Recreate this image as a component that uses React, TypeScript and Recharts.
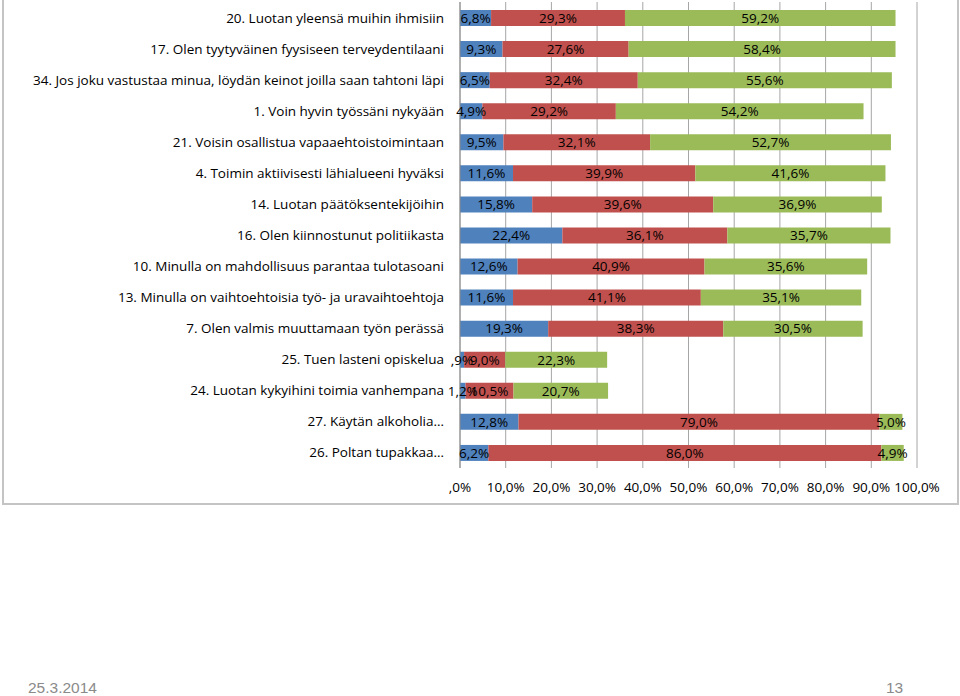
import { Bar, BarChart, CartesianGrid, LabelList, XAxis, YAxis } from "recharts";

const categories = [
  "20. Luotan yleensä muihin ihmisiin",
  "17. Olen tyytyväinen fyysiseen terveydentilaani",
  "34. Jos joku vastustaa minua, löydän keinot joilla saan tahtoni läpi",
  "1. Voin hyvin työssäni nykyään",
  "21. Voisin osallistua vapaaehtoistoimintaan",
  "4. Toimin aktiivisesti lähialueeni hyväksi",
  "14. Luotan päätöksentekijöihin",
  "16. Olen kiinnostunut politiikasta",
  "10. Minulla on mahdollisuus parantaa tulotasoani",
  "13. Minulla on vaihtoehtoisia työ- ja uravaihtoehtoja",
  "7. Olen valmis muuttamaan työn perässä",
  "25. Tuen lasteni opiskelua",
  "24. Luotan kykyihini toimia vanhempana",
  "27. Käytän alkoholia…",
  "26. Poltan tupakkaa…",
];
const blueValues = [6.8, 9.3, 6.5, 4.9, 9.5, 11.6, 15.8, 22.4, 12.6, 11.6, 19.3, 0.9, 1.2, 12.8, 6.2];
const redValues = [29.3, 27.6, 32.4, 29.2, 32.1, 39.9, 39.6, 36.1, 40.9, 41.1, 38.3, 9.0, 10.5, 79.0, 86.0];
const greenValues = [59.2, 58.4, 55.6, 54.2, 52.7, 41.6, 36.9, 35.7, 35.6, 35.1, 30.5, 22.3, 20.7, 5.0, 4.9];
const xTicks = [0, 10, 20, 30, 40, 50, 60, 70, 80, 90, 100];

const data = categories.map((name, i) => ({
  name,
  a: blueValues[i],
  b: redValues[i],
  c: greenValues[i],
}));

// Finnish Excel style: "6,8%", ",9%", ",0%"
const fmt = (v: number) => {
  let s = Number(v).toFixed(1).replace(".", ",");
  if (s.startsWith("0,")) s = s.slice(1);
  return s + "%";
};

const FONT = "'Open Sans', 'Liberation Sans', sans-serif";
const FS = 13.5;

const CatTick = (props: any) => {
  const { x, y, payload } = props;
  return (
    <text x={x} y={y} dy={5} textAnchor="end" fontSize={FS} fill="#000" fontFamily={FONT}>
      {payload.value}
    </text>
  );
};

export default function App() {
  return (
    <div style={{ position: "absolute", left: 0, top: 0, width: 960, height: 696, background: "#fff", overflow: "hidden", fontFamily: FONT }}>
      <div
        style={{
          position: "absolute",
          left: 2,
          top: -10,
          width: 953,
          height: 511,
          border: "2px solid #c4c4c4",
        }}
      />
      <div style={{ position: "absolute", left: 0, top: 0 }}>
        <BarChart
          width={960}
          height={503}
          data={data}
          layout="vertical"
          margin={{ top: 2, right: 43, bottom: 0, left: 0 }}
        >
          <CartesianGrid horizontal={false} vertical stroke="#a6a6a6" />
          <XAxis
            type="number"
            domain={[0, 100]}
            ticks={xTicks}
            tickFormatter={fmt}
            axisLine={false}
            tickLine={false}
            tickSize={0}
            tickMargin={14}
            height={35}
            interval={0}
            tick={{ fontSize: FS, fill: "#000", fontFamily: FONT }}
          />
          <YAxis
            type="category"
            dataKey="name"
            width={460}
            axisLine={{ stroke: "#8c8c8c" }}
            tickLine={false}
            tickSize={0}
            tickMargin={16}
            interval={0}
            tick={<CatTick />}
          />
          <Bar dataKey="a" stackId="s" fill="#4F81BD" barSize={16} isAnimationActive={false}>
            <LabelList dataKey="a" position="center" formatter={fmt} fill="#000" fontSize={FS} fontFamily={FONT} />
          </Bar>
          <Bar dataKey="b" stackId="s" fill="#C0504D" barSize={16} isAnimationActive={false}>
            <LabelList dataKey="b" position="center" formatter={fmt} fill="#000" fontSize={FS} fontFamily={FONT} />
          </Bar>
          <Bar dataKey="c" stackId="s" fill="#9BBB59" barSize={16} isAnimationActive={false}>
            <LabelList dataKey="c" position="center" formatter={fmt} fill="#000" fontSize={FS} fontFamily={FONT} />
          </Bar>
        </BarChart>
      </div>
      <div style={{ position: "absolute", left: 28, top: 679, fontSize: 15.5, color: "#8a8a8a", fontFamily: "'Liberation Sans Narrow', 'Liberation Sans', sans-serif" }}>
        25.3.2014
      </div>
      <div style={{ position: "absolute", left: 886, top: 679, fontSize: 15.5, color: "#8a8a8a", fontFamily: "'Liberation Sans Narrow', 'Liberation Sans', sans-serif" }}>
        13
      </div>
    </div>
  );
}
